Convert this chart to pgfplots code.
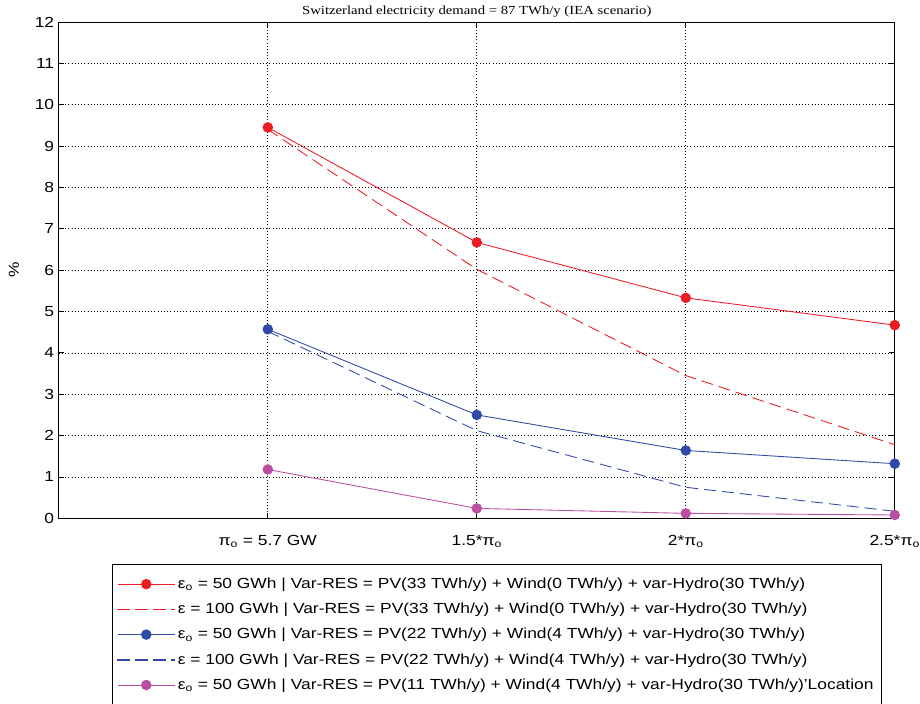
\documentclass[border=0pt]{standalone}
\usepackage{fontspec}
\setmainfont{Liberation Sans}[FakeStretch=1.19]
\newfontfamily\serifft{Liberation Serif}[FakeStretch=1.19]
\usepackage{pgfplots}
\pgfplotsset{compat=1.18}
\definecolor{cred}{RGB}{236,28,36}
\definecolor{cblue}{RGB}{46,74,166}
\definecolor{cmag}{RGB}{186,78,162}
\begin{document}
\begin{tikzpicture}
\begin{axis}[
  scale only axis,
  width=629pt, height=373.5pt,
  xmin=0.5, xmax=2.5, ymin=0, ymax=12,
  xtick={1,1.5,2,2.5},
  xticklabels={π\textsubscript{o} = 5.7 GW, 1.5*π\textsubscript{o}, 2*π\textsubscript{o}, 2.5*π\textsubscript{o}},
  ytick={0,1,...,12},
  /pgf/number format/assume math mode=true,
  tick label style={font=\fontsize{11}{13}\selectfont},
  xticklabel style={yshift=-9pt},
  tick align=inside,
  major tick length=4pt,
  tick style={black, line width=0.6pt},
  xmajorgrids, ymajorgrids,
  grid style={black, dotted, line width=0.5pt},
  axis line style={black, line width=0.6pt},
  ylabel={\%}, ylabel style={font=\fontsize{11}{13}\selectfont, yshift=5pt},
  title={\serifft\fontsize{9.3}{11}\selectfont Switzerland electricity demand = 87 TWh/y (IEA scenario)},
  title style={yshift=-6pt},
  legend style={at={(axis description cs:0.524,-0.0924)}, anchor=north,
    font=\fontsize{11}{13}\selectfont, line width=0.6pt,
    cells={anchor=west}, row sep=5.5pt, inner xsep=4pt, inner ysep=8pt},
  every axis plot/.append style={line width=0.65pt},
]
\addplot[cred, mark=*, mark size=3.6pt, forget plot] coordinates {(1,9.45) (1.5,6.67) (2,5.33) (2.5,4.67)};
\addplot[cred, dash pattern=on 9pt off 4.5pt, forget plot] coordinates {(1,9.4) (1.5,6.02) (2,3.45) (2.5,1.78)};
\addplot[cblue, mark=*, mark size=3.6pt, forget plot] coordinates {(1,4.57) (1.5,2.5) (2,1.64) (2.5,1.32)};
\addplot[cblue, dash pattern=on 9pt off 4.5pt, forget plot] coordinates {(1,4.52) (1.5,2.12) (2,0.75) (2.5,0.17)};
\addplot[cmag, mark=*, mark size=3.6pt, forget plot] coordinates {(1,1.18) (1.5,0.24) (2,0.12) (2.5,0.08)};
\addlegendimage{legend image code/.code={\draw[cred, line width=0.65pt] (0cm,0cm) -- (1.5cm,0cm); \fill[cred] (0.75cm,0cm) circle (3.6pt);}}
\addlegendentry{ε\textsubscript{o} = 50 GWh | Var-RES = PV(33 TWh/y) + Wind(0 TWh/y) + var-Hydro(30 TWh/y)}
\addlegendimage{legend image code/.code={\fill[cred] (0pt,-0.33pt) rectangle (9pt,0.33pt); \fill[cred] (13.5pt,-0.33pt) rectangle (22.5pt,0.33pt); \fill[cred] (27pt,-0.33pt) rectangle (36pt,0.33pt); \fill[cred] (40.5pt,-0.33pt) rectangle (42.7pt,0.33pt);}}
\addlegendentry{ε = 100 GWh | Var-RES = PV(33 TWh/y) + Wind(0 TWh/y) + var-Hydro(30 TWh/y)}
\addlegendimage{legend image code/.code={\draw[cblue, line width=0.65pt] (0cm,0cm) -- (1.5cm,0cm); \fill[cblue] (0.75cm,0cm) circle (3.6pt);}}
\addlegendentry{ε\textsubscript{o} = 50 GWh | Var-RES = PV(22 TWh/y) + Wind(4 TWh/y) + var-Hydro(30 TWh/y)}
\addlegendimage{legend image code/.code={\fill[cblue] (0pt,-0.33pt) rectangle (9pt,0.33pt); \fill[cblue] (13.5pt,-0.33pt) rectangle (22.5pt,0.33pt); \fill[cblue] (27pt,-0.33pt) rectangle (36pt,0.33pt); \fill[cblue] (40.5pt,-0.33pt) rectangle (42.7pt,0.33pt);}}
\addlegendentry{ε = 100 GWh | Var-RES = PV(22 TWh/y) + Wind(4 TWh/y) + var-Hydro(30 TWh/y)}
\addlegendimage{legend image code/.code={\draw[cmag, line width=0.65pt] (0cm,0cm) -- (1.5cm,0cm); \fill[cmag] (0.75cm,0cm) circle (3.6pt);}}
\addlegendentry{ε\textsubscript{o} = 50 GWh | Var-RES = PV(11 TWh/y) + Wind(4 TWh/y) + var-Hydro(30 TWh/y)'Location}
\end{axis}
\pgfresetboundingbox
\path ([shift={(-44.25pt,-139.5pt)}]current axis.south west) rectangle ([shift={(19pt,16.5pt)}]current axis.north east);
\end{tikzpicture}
\end{document}
